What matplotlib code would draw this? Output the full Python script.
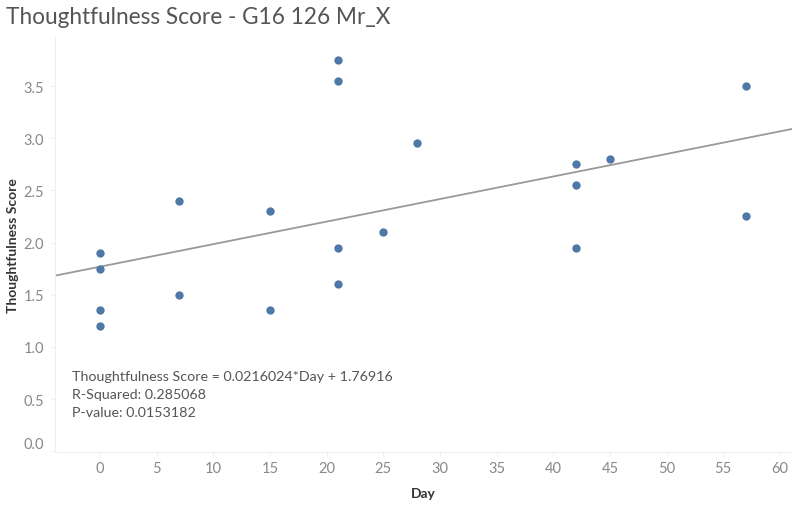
import matplotlib
matplotlib.use("Agg")
import matplotlib.pyplot as plt
import matplotlib.transforms as mtransforms
import numpy as np

days = [0, 0, 0, 0, 7, 7, 15, 15, 21, 21, 21, 21, 25, 28, 42, 42, 42, 45, 57, 57]
scores = [1.9, 1.75, 1.35, 1.2, 2.4, 1.5, 2.3, 1.35, 3.75, 3.55, 1.95, 1.6,
          2.1, 2.95, 2.75, 2.55, 1.95, 2.8, 3.5, 2.25]
slope = 0.0216024
intercept = 1.76916
r_squared = 0.285068
p_value = 0.0153182
x_ticks = [0, 5, 10, 15, 20, 25, 30, 35, 40, 45, 50, 55, 60]
y_ticks = [0.0, 0.5, 1.0, 1.5, 2.0, 2.5, 3.0, 3.5]

plt.rcParams['font.family'] = ['Lato', 'DejaVu Sans']

fig = plt.figure(figsize=(8, 5.06), dpi=100)
ax = fig.add_axes([0.069, 0.105, 0.921, 0.82])

xlim = (-3.97, 61.07)
ax.set_xlim(*xlim)
ax.set_ylim(-0.005, 3.97)

xs = np.array(xlim)
ax.plot(xs, slope * xs + intercept, color='#999999', lw=1.3, zorder=2)
ax.scatter(days, scores, s=36, color='#4e79a7', zorder=3, linewidths=0)

ax.set_xticks(x_ticks)
ax.set_yticks(y_ticks)
ax.set_yticklabels([f"{v:.1f}" for v in y_ticks])
ax.tick_params(colors='#eeeeee', labelcolor='#888888', labelsize=10.5, length=3)
ax.tick_params(axis='y', pad=5)
for s in ['top', 'right']:
    ax.spines[s].set_visible(False)
for s in ['left', 'bottom']:
    ax.spines[s].set_color('#eeeeee')

# bottom y tick label nudged up to stay inside the pane
lbl0 = ax.get_yticklabels()[0]
lbl0.set_transform(lbl0.get_transform() +
                   mtransforms.ScaledTranslation(0, 9 / 100, fig.dpi_scale_trans))

ax.set_xlabel('Day', fontsize=10, fontweight='bold', color='#333333', labelpad=9)
ax.set_ylabel('Thoughtfulness Score', fontsize=10, fontweight='bold', color='#333333', labelpad=3)

fig.text(0.008, 0.965, 'Thoughtfulness Score - G16 126 Mr_X', fontsize=16.3,
         color='#555555', va='center', ha='left')

txt = (f"Thoughtfulness Score = {slope}*Day + {intercept}\n"
       f"R-Squared: {r_squared}\nP-value: {p_value}")
ax.text(72 / 800, 1 - 371 / 506, txt, transform=fig.transFigure, fontsize=10.3,
        color='#555555', va='top', ha='left', linespacing=1.6)

fig.savefig('out.png', dpi=100)
